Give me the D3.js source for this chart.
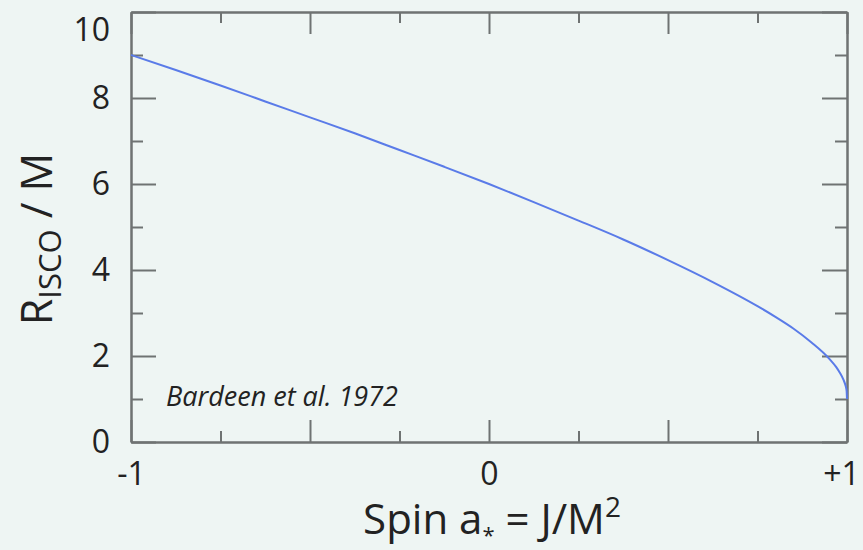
<!DOCTYPE html>
<html>
<head>
<meta charset="utf-8">
<script src="https://cdn.jsdelivr.net/npm/d3@7"></script>
<style>
  html, body { margin: 0; padding: 0; background: #eef5f3; }
  svg { display: block; }
  text { font-family: "Open Sans", "DejaVu Sans", sans-serif; fill: #222; }
</style>
</head>
<body>
<svg id="chart" width="863" height="550"></svg>
<script>
// ISCO radius (in units of M) as a function of dimensionless spin
const spin = [-1, -0.875, -0.75, -0.625, -0.5, -0.375, -0.25, -0.125, 0,
              0.125, 0.25, 0.375, 0.5, 0.625, 0.75, 0.8, 0.85, 0.9, 0.95,
              0.97, 0.98, 0.99, 0.995, 0.998, 0.999, 1];
const risco = [9.0, 8.65, 8.29, 7.92, 7.55, 7.18, 6.79, 6.4, 6.0,
               5.58, 5.15, 4.71, 4.23, 3.72, 3.16, 2.91, 2.64, 2.32, 1.94,
               1.74, 1.61, 1.45, 1.34, 1.24, 1.18, 1.0];

const xMajorTicks = [-1, -0.5, 0, 0.5, 1];
const xMinorTicks = [-0.75, -0.25, 0.25, 0.75];
const xTickLabels = ["-1", "", "0", "", "+1"];
const yMajorTicks = [0, 2, 4, 6, 8, 10];
const yMinorTicks = [1, 3, 5, 7, 9];
const yTickLabels = ["0", "2", "4", "6", "8", "10"];
const citation = "Bardeen et al. 1972";

const W = 863, H = 550;
const margin = { top: 12, right: 16, bottom: 108, left: 131 };
const svg = d3.select("#chart");

const x = d3.scaleLinear().domain([-1, 1]).range([margin.left, W - margin.right]);
const y = d3.scaleLinear().domain([0, 10]).range([H - margin.bottom, margin.top]);

const axisColor = "#6f7372";
const majorX = 22, minorX = 11, majorY = 25, minorY = 12;

function styleAxis(g) {
  g.selectAll("path.domain").attr("stroke", axisColor).attr("stroke-width", 2);
  g.selectAll(".tick line").attr("stroke", axisColor).attr("stroke-width", 2);
  g.selectAll(".tick text").style("font-size", "32px").attr("fill", "#222");
}

// bottom axis: major ticks with labels, minor ticks without
svg.append("g")
  .attr("transform", `translate(0,${y(0)})`)
  .call(d3.axisBottom(x).tickValues(xMajorTicks)
    .tickFormat((d, i) => xTickLabels[i])
    .tickSizeInner(-majorX).tickSizeOuter(0).tickPadding(20))
  .call(styleAxis)
  .call(g => g.selectAll(".tick text").filter(d => d === 1).attr("dx", -6));
svg.append("g")
  .attr("transform", `translate(0,${y(0)})`)
  .call(d3.axisBottom(x).tickValues(xMinorTicks).tickFormat("")
    .tickSizeInner(-minorX).tickSizeOuter(0))
  .call(styleAxis);

// top axis
svg.append("g")
  .attr("transform", `translate(0,${y(10)})`)
  .call(d3.axisTop(x).tickValues(xMajorTicks).tickFormat("")
    .tickSizeInner(-majorX).tickSizeOuter(0))
  .call(styleAxis);
svg.append("g")
  .attr("transform", `translate(0,${y(10)})`)
  .call(d3.axisTop(x).tickValues(xMinorTicks).tickFormat("")
    .tickSizeInner(-minorX).tickSizeOuter(0))
  .call(styleAxis);

// left axis; the top label is nudged down so it stays inside the page
svg.append("g")
  .attr("transform", `translate(${x(-1)},0)`)
  .call(d3.axisLeft(y).tickValues(yMajorTicks)
    .tickFormat((d, i) => yTickLabels[i])
    .tickSizeInner(-majorY).tickSizeOuter(0).tickPadding(21))
  .call(styleAxis)
  .call(g => g.selectAll(".tick text").filter(d => d === 10).attr("dy", "0.9em"));
svg.append("g")
  .attr("transform", `translate(${x(-1)},0)`)
  .call(d3.axisLeft(y).tickValues(yMinorTicks).tickFormat("")
    .tickSizeInner(-minorY).tickSizeOuter(0))
  .call(styleAxis);

// right axis
svg.append("g")
  .attr("transform", `translate(${x(1)},0)`)
  .call(d3.axisRight(y).tickValues(yMajorTicks).tickFormat("")
    .tickSizeInner(-majorY).tickSizeOuter(0))
  .call(styleAxis);
svg.append("g")
  .attr("transform", `translate(${x(1)},0)`)
  .call(d3.axisRight(y).tickValues(yMinorTicks).tickFormat("")
    .tickSizeInner(-minorY).tickSizeOuter(0))
  .call(styleAxis);

// ISCO curve
const line = d3.line()
  .x((d, i) => x(spin[i]))
  .y(d => y(d))
  .curve(d3.curveMonotoneX);
svg.append("path")
  .datum(risco)
  .attr("d", line)
  .attr("fill", "none")
  .attr("stroke", "#5a7be8")
  .attr("stroke-width", 2);

// citation
svg.append("text")
  .attr("x", 166).attr("y", 406)
  .style("font-size", "27px").style("font-style", "italic")
  .attr("fill", "#333")
  .text(citation);

// x axis title
const xt = svg.append("text")
  .attr("x", (x(-1) + x(1)) / 2 + 3).attr("y", 534)
  .attr("text-anchor", "middle")
  .style("font-size", "42px");
xt.append("tspan").text("Spin a");
xt.append("tspan").attr("dy", 9).style("font-size", "22px").text("*");
xt.append("tspan").attr("dy", -9).text(" = J/M");
xt.append("tspan").attr("dy", -17).style("font-size", "28px").text("2");

// y axis title
const yt = svg.append("text")
  .attr("transform", `translate(52,${(y(0) + y(10)) / 2 + 12}) rotate(-90)`)
  .attr("text-anchor", "middle")
  .style("font-size", "43px");
yt.append("tspan").text("R");
yt.append("tspan").attr("dy", 9).style("font-size", "31px").text("ISCO");
yt.append("tspan").attr("dy", -9).text(" / M");
</script>
</body>
</html>
